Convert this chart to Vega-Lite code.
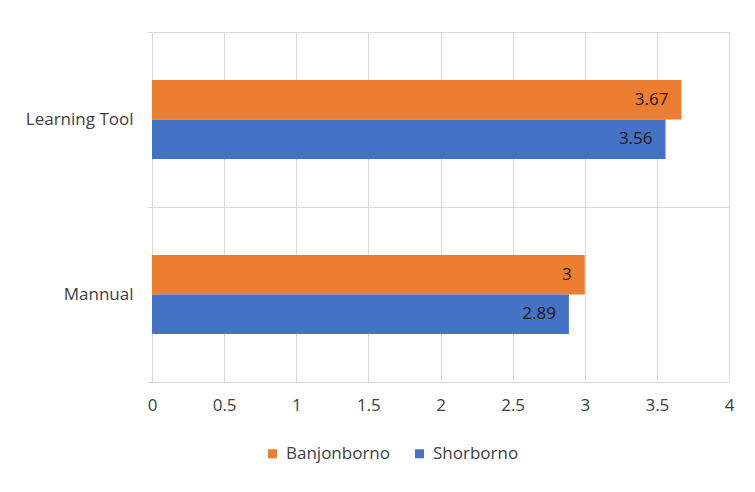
{
  "$schema": "https://vega.github.io/schema/vega-lite/v6.json",
  "width": 577,
  "height": 350,
  "autosize": {"type": "none"},
  "padding": {"left": 152, "top": 32, "right": 26, "bottom": 110},
  "config": {"view": {"stroke": null}, "font": "Open Sans"},
  "data": {
    "values": [
      {"method": "Learning Tool", "series": "Banjonborno", "score": 3.67},
      {"method": "Learning Tool", "series": "Shorborno", "score": 3.56},
      {"method": "Mannual", "series": "Banjonborno", "score": 3},
      {"method": "Mannual", "series": "Shorborno", "score": 2.89}
    ]
  },
  "encoding": {
    "y": {
      "field": "method",
      "type": "nominal",
      "sort": null,
      "scale": {"paddingInner": 0, "paddingOuter": 0},
      "axis": {
        "title": null,
        "tickBand": "extent",
        "grid": true,
        "gridColor": "#D9D9D9",
        "domainColor": "#D9D9D9",
        "tickColor": "#D9D9D9",
        "tickSize": 5,
        "labelFontSize": 17,
        "labelColor": "#404040",
        "labelPadding": 14
      }
    },
    "yOffset": {
      "field": "series",
      "sort": ["Banjonborno", "Shorborno"],
      "scale": {"range": [48, 127]}
    },
    "x": {
      "field": "score",
      "type": "quantitative",
      "scale": {"domain": [0, 4]},
      "axis": {
        "title": null,
        "values": [0, 0.5, 1, 1.5, 2, 2.5, 3, 3.5, 4],
        "format": "~g",
        "grid": true,
        "gridColor": "#D9D9D9",
        "domainColor": "#D9D9D9",
        "ticks": false,
        "tickSize": 0,
        "labelFlush": false,
        "labelFontSize": 17,
        "labelColor": "#404040",
        "labelPadding": 15
      }
    }
  },
  "layer": [
    {
      "mark": {"type": "bar"},
      "encoding": {
        "color": {
          "field": "series",
          "type": "nominal",
          "sort": ["Banjonborno", "Shorborno"],
          "scale": {"domain": ["Banjonborno", "Shorborno"], "range": ["#ED7D31", "#4472C4"]},
          "legend": {
            "orient": "none",
            "legendX": 112,
            "legendY": 413,
            "direction": "horizontal",
            "title": null,
            "symbolType": "square",
            "symbolSize": 81,
            "labelOffset": 5,
            "labelFontSize": 17,
            "labelColor": "#404040",
            "columnPadding": 20
          }
        }
      }
    },
    {
      "mark": {"type": "text", "align": "right", "baseline": "middle", "dx": -13, "fontSize": 17, "color": "#1a1a1a"},
      "encoding": {
        "text": {"field": "score", "type": "quantitative"}
      }
    }
  ]
}
